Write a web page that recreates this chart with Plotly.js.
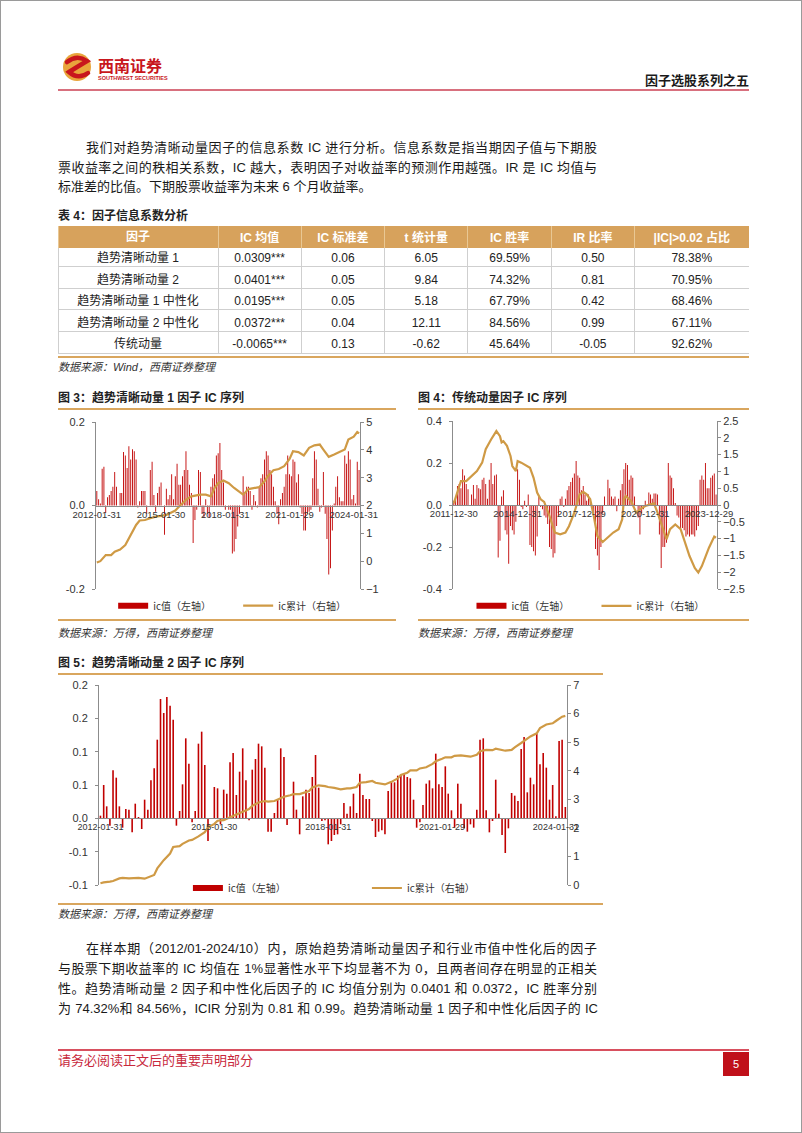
<!DOCTYPE html>
<html><head><meta charset="utf-8">
<script src="https://cdn.plot.ly/plotly-3.0.1.min.js"></script>
<style>
body{margin:0;background:#fff;}
#page{position:relative;width:802px;height:1133px;box-sizing:border-box;border:1px solid #9a9a9a;overflow:hidden;
  font-family:"Liberation Sans","Noto Sans CJK SC",sans-serif;color:#1a1a1a;background:#fff;}
.t{position:absolute;font-size:13px;line-height:20px;height:20px;white-space:nowrap;}
.j{text-align:justify;text-align-last:justify;white-space:normal;overflow:hidden;}
.cap{position:absolute;font-size:12px;line-height:16px;font-weight:bold;color:#222;white-space:nowrap;z-index:2;}
.src{position:absolute;font-size:11px;line-height:14px;font-style:italic;color:#333;white-space:nowrap;}
.gold{position:absolute;height:1.5px;background:#D9A65E;}
.plot{position:absolute;}
</style></head>
<body><div id="page">
<svg class="plot" style="left:60px;top:50px" width="34" height="34" viewBox="0 0 34 34">
  <circle cx="16" cy="16" r="14" fill="#E9A53C"/>
  <path d="M6 11 Q16 3 26 10 Q16 16 8 21 Q17 29 27 22" stroke="#C8161D" stroke-width="4.5" fill="none" stroke-linecap="round"/>
</svg>
<div class="t" style="left:97px;top:55px;font-size:16px;line-height:21px;height:21px;font-weight:bold;color:#C8161D;">西南证券</div>
<div class="t" style="left:97px;top:74px;font-size:5.5px;line-height:7px;height:7px;font-weight:bold;color:#C8161D;">SOUTHWEST SECURITIES</div>
<div class="t" style="left:600px;width:148px;top:70px;text-align:right;font-weight:bold;font-size:13px;">因子选股系列之五</div>
<div class="plot" style="left:57px;top:88px;width:691px;height:2px;background:#D8707E;"></div>

<div class="t j" style="left:85px;width:511px;top:137px;">我们对趋势清晰动量因子的信息系数 IC 进行分析。信息系数是指当期因子值与下期股</div>
<div class="t j" style="left:57px;width:539px;top:157px;">票收益率之间的秩相关系数，IC 越大，表明因子对收益率的预测作用越强。IR 是 IC 均值与</div>
<div class="t" style="left:57px;top:176px;">标准差的比值。下期股票收益率为未来 6 个月收益率。</div>

<div id="tblBody" class="plot" style="left:57px;top:228px;width:691px;height:130px;"></div>
<div class="plot" style="left:57px;top:225px;width:691px;height:22px;overflow:hidden;">
  <div id="tblHead" class="plot" style="left:0;top:-20px;width:691px;height:70px;"></div>
</div>
<div class="cap" style="left:57px;top:207px;">表 4：因子信息系数分析</div>
<div class="plot" style="left:57px;top:355px;width:691px;height:2px;background:#D9A65E;"></div>
<div class="src" style="left:57px;top:359px;">数据来源：Wind，西南证券整理</div>

<div class="cap" style="left:57px;top:389px;">图 3：趋势清晰动量 1 因子 IC 序列</div>
<div class="gold" style="left:57px;top:407px;width:338px;"></div>
<div id="c3" class="plot" style="left:57px;top:410px;width:338px;height:208px;"></div>
<div class="gold" style="left:57px;top:618px;width:338px;"></div>
<div class="src" style="left:57px;top:625px;">数据来源：万得，西南证券整理</div>

<div class="cap" style="left:417px;top:389px;">图 4：传统动量因子 IC 序列</div>
<div class="gold" style="left:417px;top:407px;width:331px;"></div>
<div id="c4" class="plot" style="left:417px;top:410px;width:331px;height:208px;"></div>
<div class="gold" style="left:417px;top:618px;width:331px;"></div>
<div class="src" style="left:417px;top:625px;">数据来源：万得，西南证券整理</div>

<div class="cap" style="left:57px;top:654px;">图 5：趋势清晰动量 2 因子 IC 序列</div>
<div class="gold" style="left:57px;top:672px;width:545px;"></div>
<div id="c5" class="plot" style="left:57px;top:675px;width:545px;height:227px;"></div>
<div class="gold" style="left:57px;top:902px;width:545px;"></div>
<div class="src" style="left:57px;top:906px;">数据来源：万得，西南证券整理</div>

<div class="t j" style="left:85px;width:511px;top:938px;">在样本期（2012/01-2024/10）内，原始趋势清晰动量因子和行业市值中性化后的因子</div>
<div class="t j" style="left:57px;width:539px;top:958px;">与股票下期收益率的 IC 均值在 1%显著性水平下均显著不为 0，且两者间存在明显的正相关</div>
<div class="t j" style="left:57px;width:539px;top:978px;">性。趋势清晰动量 2 因子和中性化后因子的 IC 均值分别为 0.0401 和 0.0372，IC 胜率分别</div>
<div class="t j" style="left:57px;width:540px;top:998px;">为 74.32%和 84.56%，ICIR 分别为 0.81 和 0.99。趋势清晰动量 1 因子和中性化后因子的 IC</div>

<div class="plot" style="left:57px;top:1048px;width:691px;height:1.5px;background:#D8505F;"></div>
<div class="t" style="left:57px;top:1050px;color:#C8283C;font-size:13px;">请务必阅读正文后的重要声明部分</div>
<div class="plot" style="left:722px;top:1051px;width:26px;height:24px;background:#C0101A;color:#fff;font-size:11px;line-height:24px;text-align:center;">5</div>
</div>
<script>
// ---------- Table 4 data ----------
const tableHeaders = ["因子", "IC 均值", "IC 标准差", "t 统计量", "IC 胜率", "IR 比率", "|IC|>0.02 占比"];
const factorNames = ["趋势清晰动量 1", "趋势清晰动量 2", "趋势清晰动量 1 中性化", "趋势清晰动量 2 中性化", "传统动量"];
const icMean = ["0.0309***", "0.0401***", "0.0195***", "0.0372***", "-0.0065***"];
const icStd = ["0.06", "0.05", "0.05", "0.04", "0.13"];
const tStat = ["6.05", "9.84", "5.18", "12.11", "-0.62"];
const icWin = ["69.59%", "74.32%", "67.79%", "84.56%", "45.64%"];
const irRatio = ["0.50", "0.81", "0.42", "0.99", "-0.05"];
const absShare = ["78.38%", "70.95%", "68.46%", "67.11%", "92.62%"];

// ---------- Legend labels ----------
const legendNames = ["ic值（左轴）", "ic累计（右轴）"];

// ---------- Figure 3: 趋势清晰动量1 (monthly from 2012-01) ----------
const fig3Start = "2012-01";
const fig3IC = [
0.035, 0.015, 0.005, 0.088, 0.093, -0.018, 0.02, 0.025, 0.035, 0.045,
0.08, 0.045, 0.0, 0.03, 0.03, 0.128, 0.12, 0.09, 0.142, 0.11,
0.135, 0.13, 0.11, -0.005, 0.01, 0.035, 0.035, 0.035, -0.02, 0.0,
0.085, 0.105, 0.025, -0.015, 0.03, 0.045, 0.055, 0.0, -0.07, 0.04,
0.015, 0.025, 0.075, 0.015, 0.07, 0.1, 0.05, 0.05, 0.07, 0.085,
0.13, 0.085, 0.05, 0.03, -0.09, -0.035, -0.01, 0.085, 0.08, -0.02,
-0.03, 0.015, -0.02, -0.03, 0.045, 0.065, 0.075, 0.12, 0.125, 0.15,
0.085, 0.055, -0.01, 0.0, -0.01, -0.01, -0.115, -0.11, -0.08, -0.05,
-0.02, 0.0, 0.07, 0.03, 0.045, 0.045, 0.035, -0.01, 0.025, 0.01,
-0.005, 0.045, 0.065, 0.075, 0.11, 0.13, 0.12, 0.085, 0.075, 0.045,
0.01, -0.02, -0.045, 0.015, 0.03, 0.045, 0.075, 0.12, 0.075, 0.07,
0.11, 0.105, 0.055, 0.075, -0.005, -0.02, -0.06, -0.06, -0.02, -0.015,
-0.01, 0.065, 0.13, 0.11, 0.04, -0.015, -0.005, 0.08, -0.02, -0.08,
-0.165, -0.15, -0.06, 0.005, 0.045, 0.07, 0.02, 0.01, 0.01, 0.12,
0.1, 0.13, 0.11, 0.015, 0.025, 0.005, 0.105, 0.085
];
const fig3CumDates = ["2012-01","2012-03","2012-06","2012-09","2012-11","2013-02","2013-05","2013-08","2013-11","2014-01",
"2014-04","2014-07","2014-10","2015-01","2015-04","2015-06","2015-09","2015-12","2016-03","2016-06",
"2016-08","2016-11","2017-02","2017-05","2017-07","2017-09","2017-12","2018-03","2018-06","2018-09",
"2018-11","2019-02","2019-05","2019-08","2019-11","2020-01","2020-04","2020-07","2020-10","2021-01",
"2021-03","2021-06","2021-09","2021-12","2022-03","2022-06","2022-08","2022-11","2023-02","2023-05",
"2023-08","2023-10","2024-01","2024-03","2024-04"];
const fig3Cum = [-0.05, 0.0, 0.22, 0.22, 0.34, 0.42, 0.58, 0.94, 1.30, 1.46,
1.48, 1.54, 1.6, 1.63, 1.66, 1.72, 1.82, 2.02, 2.2, 2.33,
2.35, 2.39, 2.39, 2.33, 2.63, 2.8, 2.9, 2.8, 2.63, 2.47,
2.39, 2.59, 2.63, 2.66, 2.87, 3.07, 3.27, 3.31, 3.41, 3.67,
3.95, 3.92, 3.8, 4.07, 4.16, 4.19, 4.01, 3.75, 3.83, 3.92,
4.01, 4.37, 4.47, 4.64, 4.59];
const fig3Ticks = ["2012-01-31", "2015-01-30", "2018-01-31", "2021-01-29", "2024-01-31"];

// ---------- Figure 4: 传统动量 (monthly from 2011-12) ----------
const fig4Start = "2011-12";
const fig4IC = [
0.02, 0.04, 0.09, 0.1, 0.08, 0.17, 0.14, 0.1, 0.075, -0.005, 0.05, 0.095, 0.03, 0.095, 0.08, 0.075, 0.12, 0.13, 0.1, 0.03, 0.12, 0.2, 0.1, 0.14, 0.145,
-0.25, -0.17, 0.04, 0.07, -0.12, -0.14, -0.28, -0.1, -0.12, -0.14, -0.08,
0.17, 0.12, -0.01, -0.02, 0.02, -0.01, 0.05, -0.19, -0.2, -0.22, -0.24, -0.15,
0.04, -0.01, -0.02, -0.05, -0.06, -0.09, -0.2, -0.21, -0.25, -0.23, -0.1, -0.05,
0.03, 0.04, -0.01, 0.03, 0.07, 0.09, 0.11, 0.13, 0.15, 0.21, 0.14, 0.13,
0.07, 0.09, 0.05, 0.02, 0.05, 0.03, -0.01, -0.04, -0.21, -0.24, -0.31, -0.2,
-0.04, 0.04, 0.0, 0.12, 0.08, 0.04, 0.03, 0.04, -0.03, 0.03, 0.07, 0.1,
0.17, 0.2, 0.19, 0.12, 0.14, 0.13, 0.04, 0.0, -0.06, -0.14, -0.04,
-0.02, 0.02, 0.0, 0.06, 0.05, 0.03, 0.055, 0.055, 0.05,
-0.14, -0.3, -0.2, -0.2, -0.18,
0.2, 0.14, 0.13, 0.08, 0.01, -0.05, -0.06, -0.11, -0.11, -0.12, -0.15, -0.14, -0.15, -0.14, -0.14, -0.15, -0.12, -0.1,
0.12, 0.14, 0.12, 0.2, 0.08, 0.08, 0.13, 0.14, 0.15, 0.05
];
const fig4CumDates = ["2011-12","2012-02","2012-04","2012-07","2012-10","2013-01","2013-04","2013-06","2013-09","2013-12",
"2014-02","2014-03","2014-04","2014-06","2014-08","2014-09","2014-11","2014-12","2015-02","2015-05",
"2015-07","2015-09","2015-11","2016-01","2016-03","2016-06","2016-09","2016-12","2017-03","2017-05",
"2017-08","2017-11","2018-01","2018-03","2018-05","2018-07","2018-09","2018-12","2019-03","2019-06",
"2019-09","2019-11","2019-12","2020-01","2020-04","2020-07","2020-09","2020-12","2021-03","2021-05",
"2021-07","2021-10","2021-12","2022-02","2022-05","2022-08","2022-10","2023-01","2023-04","2023-06",
"2023-08","2023-10","2023-12","2024-03","2024-04"];
const fig4Cum = [0.05, 0.37, 0.71, 0.71, 0.86, 1.01, 1.26, 1.66, 1.95, 2.2,
2.05, 1.86, 1.9, 1.76, 1.46, 1.16, 1.01, 1.31, 1.26, 1.18,
1.11, 0.81, 0.37, 0.17, 0.09, -0.33, -0.82, -0.87, -0.82, -0.63,
-0.23, 0.32, 0.39, 0.32, 0.17, -0.33, -0.92, -1.1, -0.97, -0.82,
-0.72, -0.43, 0.17, 0.27, 0.12, -0.23, -0.13, -0.03, 0.02, 0.05,
-0.23, -0.72, -1.02, -0.72, -0.58, -0.72, -1.02, -1.52, -1.87, -2.01,
-1.82, -1.52, -1.27, -0.94, -0.97];
const fig4Ticks = ["2011-12-30", "2014-12-31", "2017-12-29", "2020-12-31", "2023-12-29"];

// ---------- Figure 5: 趋势清晰动量2 (monthly from 2012-01) ----------
const fig5Start = "2012-01";
const fig5IC = [
0.004, 0.05, 0.018, -0.011, 0.072, 0.061, 0.018, -0.014, 0.014, 0.013,
-0.021, 0.022, 0.002, -0.016, 0.028, 0.013, 0.057, 0.075, 0.118, 0.179,
0.158, 0.182, 0.169, 0.148, -0.011, 0.011, 0.051, 0.12, 0.082, -0.006,
0.011, 0.112, 0.13, 0.08, -0.034, 0.0, 0.047, 0.045, -0.009, 0.043,
0.037, 0.084, 0.098, 0.035, 0.07, 0.105, 0.057, -0.003, 0.073, 0.089,
0.112, 0.108, 0.076, -0.02, -0.02, 0.008, 0.029, 0.105, 0.092, -0.01,
0.0, 0.055, 0.013, -0.024, 0.033, 0.043, 0.038, 0.062, 0.095, 0.046,
-0.004, -0.003, -0.039, -0.034, -0.025,
-0.024, -0.009, 0.023, 0.007, 0.018, 0.037, 0.008, 0.067, 0.035, 0.029,
0.029, -0.004, -0.028, -0.02, -0.018, -0.024, 0.041, 0.055, 0.054, 0.064,
0.065, 0.068, 0.062, 0.06, 0.028, -0.014, -0.006, 0.02, 0.052, 0.057,
0.045, 0.097, 0.051, 0.047, 0.078, 0.037, 0.012, -0.014, 0.052, 0.022,
-0.015, -0.02, -0.009, -0.014, 0.013, 0.118, 0.12, 0.012, -0.021, -0.004,
0.058, 0.007, -0.025, -0.052, -0.015, 0.038, 0.034, 0.026, 0.104, 0.122,
0.039, 0.061, 0.051, 0.127, 0.081, 0.098, 0.076, 0.028, 0.05, 0.003,
0.116, 0.118, 0.017
];
const fig5CumDates = ["2012-01","2012-02","2012-04","2012-05","2012-07","2012-08","2012-10","2012-11","2013-01","2013-03",
"2013-04","2013-06","2013-07","2013-09","2013-11","2013-12","2014-02","2014-03","2014-05","2014-06",
"2014-08","2014-10","2014-11","2015-01","2015-02","2015-04","2015-06","2015-07","2015-09","2015-10",
"2015-12","2016-01","2016-03","2016-05","2016-06","2016-08","2016-09","2016-11","2017-01","2017-02",
"2017-04","2017-05","2017-07","2017-08","2017-10","2017-12","2018-01","2018-03","2018-05","2018-07",
"2018-08","2018-10","2018-11","2019-01","2019-03","2019-04","2019-06","2019-07","2019-09","2019-11",
"2019-12","2020-02","2020-03","2020-05","2020-06","2020-08","2020-10","2020-11","2021-01","2021-02",
"2021-04","2021-05","2021-07","2021-09","2021-10","2021-12","2022-01","2022-03","2022-05","2022-06",
"2022-08","2022-09","2022-11","2022-12","2023-02","2023-04","2023-05","2023-07","2023-08","2023-10",
"2023-12","2024-01","2024-03","2024-04"];
const fig5Cum = [0.06, 0.09, 0.12, 0.14, 0.23, 0.25, 0.23, 0.23, 0.25, 0.22,
0.27, 0.35, 0.58, 0.87, 1.1, 1.33, 1.36, 1.44, 1.56, 1.58,
1.7, 1.85, 2.02, 2.14, 2.25, 2.27, 2.37, 2.42, 2.51, 2.58,
2.66, 2.77, 2.89, 2.94, 2.92, 2.94, 3.0, 3.09, 3.14, 3.18,
3.18, 3.21, 3.29, 3.41, 3.49, 3.46, 3.43, 3.4, 3.35, 3.38,
3.38, 3.43, 3.58, 3.6, 3.64, 3.58, 3.55, 3.52, 3.61, 3.73,
3.85, 3.93, 4.01, 4.01, 4.08, 4.12, 4.24, 4.33, 4.42, 4.47,
4.47, 4.52, 4.54, 4.52, 4.49, 4.56, 4.68, 4.73, 4.72, 4.77,
4.73, 4.7, 4.73, 4.82, 4.97, 5.12, 5.2, 5.31, 5.49, 5.62,
5.66, 5.74, 5.89, 5.92];
const fig5Ticks = ["2012-01-31", "2015-01-30", "2018-01-31", "2021-01-29", "2024-01-31"];
const fig5LeftTickVals = [-0.1, -0.05, 0, 0.05, 0.1, 0.15, 0.2];
const fig5LeftTickText = ["-0.1", "-0.1", "0.0", "0.1", "0.1", "0.2", "0.2"];

// ---------- styles ----------
const BAR_COLOR = "#C00000";
const LINE_COLOR = "#CF9A45";
const AXIS_COLOR = "#8c8c8c";
const HEAD_FILL = "#D7A25C";
const FONT = "Liberation Sans, Noto Sans CJK SC, sans-serif";
const CJK = "Noto Sans CJK SC, sans-serif";

function monthStr(start, k, day) {
  const y0 = +start.slice(0, 4), m0 = +start.slice(5, 7) - 1 + k;
  const y = y0 + Math.floor(m0 / 12), m = (m0 % 12) + 1;
  return y + "-" + String(m).padStart(2, "0") + "-" + day;
}

function drawIC(id, o) {
  const n = o.ic.length;
  const x = o.ic.map((_, k) => monthStr(o.start, k, "15"));
  const [lo, hi] = o.leftRange;
  const traces = [
    {type: "bar", x: x, y: o.ic, marker: {color: BAR_COLOR, line: {width: 0}}, showlegend: false, hoverinfo: "skip"},
    {type: "scatter", mode: "lines", x: [null], y: [null], name: legendNames[0], line: {color: BAR_COLOR, width: 6}},
    {type: "scatter", mode: "lines", x: o.cumDates.map(d => d + "-15"), y: o.cum, yaxis: "y2", name: legendNames[1],
     line: {color: LINE_COLOR, width: 2.2}}
  ];
  const tickFont = {family: FONT, size: 11, color: "#333"};
  const yBase = {showgrid: false, zeroline: false, showline: true, linecolor: AXIS_COLOR, linewidth: 1,
    ticks: "outside", ticklen: 3, tickcolor: AXIS_COLOR, tickfont: tickFont, fixedrange: true};
  const layout = {
    width: o.w, height: o.h, margin: Object.assign({autoexpand: false, pad: 0}, o.margin),
    paper_bgcolor: "#fff", plot_bgcolor: "#fff", bargap: o.bargap, font: {family: FONT},
    xaxis: {type: "date", range: [monthStr(o.start, 0, "01"), monthStr(o.start, n, "01")],
      anchor: "free", position: (0 - lo) / (hi - lo), showline: true, linecolor: AXIS_COLOR, linewidth: 1,
      showgrid: false, zeroline: false, ticks: "", tickvals: o.ticks.map(s => s.slice(0, 7) + "-15"),
      ticktext: o.ticks, tickangle: 0, tickfont: {family: FONT, size: o.xTickSize, color: "#333"}},
    yaxis: Object.assign({}, yBase, {range: [lo, hi], tickvals: o.leftTickVals, ticktext: o.leftTickText,
      ticklabelstandoff: 5}),
    yaxis2: Object.assign({}, yBase, {overlaying: "y", side: "right", range: o.rightRange, dtick: o.rightDtick, tick0: 0}),
    showlegend: true,
    legend: {orientation: "h", x: o.legendX, xanchor: "left", y: o.legendY, yanchor: "middle",
      font: {family: CJK, size: 10, color: "#333"}, entrywidth: o.entryWidth, entrywidthmode: "pixels",
      bgcolor: "rgba(0,0,0,0)", itemwidth: 30}
  };
  Plotly.newPlot(id, traces, layout, {staticPlot: true, displayModeBar: false});
}

drawIC("c3", {start: fig3Start, ic: fig3IC, cumDates: fig3CumDates, cum: fig3Cum, ticks: fig3Ticks,
  leftRange: [-0.2, 0.2], leftTickVals: [-0.2, 0, 0.2], leftTickText: ["-0.2", "0.0", "0.2"],
  rightRange: [-1, 5], rightDtick: 1, w: 338, h: 208, margin: {l: 38, r: 36, t: 11, b: 30},
  bargap: 0.45, xTickSize: 9.5, legendX: 0.065, legendY: -0.10, entryWidth: 80});
drawIC("c4", {start: fig4Start, ic: fig4IC, cumDates: fig4CumDates, cum: fig4Cum, ticks: fig4Ticks,
  leftRange: [-0.4, 0.4], leftTickVals: [-0.4, -0.2, 0, 0.2, 0.4], leftTickText: ["-0.4", "-0.2", "0.0", "0.2", "0.4"],
  rightRange: [-2.5, 2.5], rightDtick: 0.5, w: 331, h: 208, margin: {l: 35, r: 32, t: 10, b: 30},
  bargap: 0.45, xTickSize: 9.5, legendX: 0.07, legendY: -0.10, entryWidth: 80});
drawIC("c5", {start: fig5Start, ic: fig5IC, cumDates: fig5CumDates, cum: fig5Cum, ticks: fig5Ticks,
  leftRange: [-0.1, 0.2], leftTickVals: fig5LeftTickVals, leftTickText: fig5LeftTickText,
  rightRange: [0, 7], rightDtick: 1, w: 545, h: 227, margin: {l: 41, r: 36, t: 9, b: 18},
  bargap: 0.45, xTickSize: 9, legendX: 0.19, legendY: -0.015, entryWidth: 134});

// ---------- Table 4: header row and body rows as two library tables ----------
const colWidths = [160, 83.3, 83.3, 83.3, 83.3, 83.3, 114.5];
const noHeader = {values: [], fill: {color: "rgba(0,0,0,0)"}, line: {width: 0, color: "rgba(0,0,0,0)"}};
const tblLayout = (h) => ({width: 691, height: h, margin: {l: 0, r: 0, t: 0, b: 0}, paper_bgcolor: "rgba(0,0,0,0)"});
const tblConfig = {staticPlot: true, displayModeBar: false};
Plotly.newPlot("tblHead", [{
  type: "table", columnwidth: colWidths, header: noHeader,
  cells: {values: tableHeaders.map(h => ["<b>" + h + "</b>"]), align: "center", height: 22,
    fill: {color: HEAD_FILL}, line: {color: "#E9C894", width: 1},
    font: {family: FONT, size: 12, color: "#ffffff"}}
}], tblLayout(70), tblConfig);
Plotly.newPlot("tblBody", [{
  type: "table", columnwidth: colWidths, header: noHeader,
  cells: {values: [factorNames, icMean, icStd, tStat, icWin, irRatio, absShare], align: "center", height: 21.6,
    fill: {color: "#ffffff"}, line: {color: "#CFCFCF", width: 1},
    font: {family: FONT, size: 12, color: "#222222"}}
}], tblLayout(130), tblConfig);
</script>
</body></html>
